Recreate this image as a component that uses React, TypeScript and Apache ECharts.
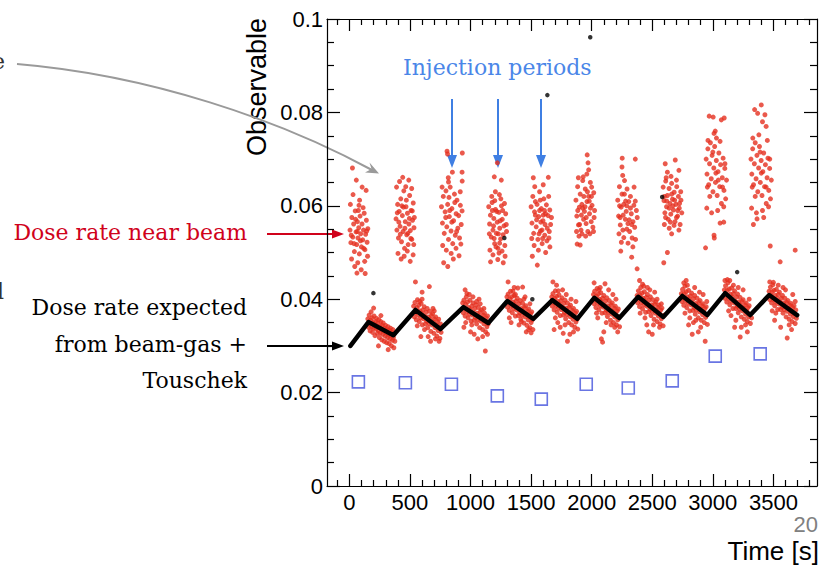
import React, { useEffect, useRef } from "react";
import * as echarts from "echarts";

// ---------- axis ticks ----------
const xMajorTicks = [0, 500, 1000, 1500, 2000, 2500, 3000, 3500];
const xMinorTicks = [-100, 100, 200, 300, 400, 600, 700, 800, 900, 1100, 1200, 1300, 1400, 1600, 1700, 1800, 1900, 2100, 2200, 2300, 2400, 2600, 2700, 2800, 2900, 3100, 3200, 3300, 3400, 3600, 3700, 3800];
const yMajorTicks = [0, 0.02, 0.04, 0.06, 0.08, 0.1];
const yMinorTicks = [0.005, 0.01, 0.015, 0.025, 0.03, 0.035, 0.045, 0.05, 0.055, 0.065, 0.07, 0.075, 0.085, 0.09, 0.095];

// ---------- red points: "dose rate near beam" during injection (t [s], value x 1e-4) ----------
const upper1 = [[5,548],[12,521],[20,575],[28,533],[35,561],[41,502],[48,589],[55,544],[60,517],[66,566],[71,531],[77,553],[82,497],[88,578],[93,540],[99,512],[104,561],[110,527],[116,548],[122,584],[128,506],[134,539],[140,569],[146,522],[152,551],[8,603],[18,486],[30,624],[44,470],[57,655],[69,478],[84,612],[97,463],[113,596],[126,481],[138,633],[150,492],[25,681],[62,456],[105,640],[130,455],[15,537],[38,519],[51,571],[74,590],[91,525],[118,509],[143,546],[79,601],[65,545]];
const upper2 = [[385,572],[392,548],[398,603],[405,531],[411,588],[418,556],[424,615],[430,523],[437,579],[443,545],[449,632],[455,509],[461,566],[467,598],[473,538],[479,584],[485,517],[491,561],[497,622],[503,547],[509,590],[515,528],[521,569],[527,606],[533,553],[389,640],[401,498],[414,652],[427,486],[440,661],[452,492],[465,641],[478,503],[490,655],[502,481],[514,637],[526,495],[536,575],[395,585],[420,539],[446,597],[458,552],[470,612],[483,541],[495,573],[507,530],[519,589],[531,517],[408,565],[433,600]];
const upper3 = [[806,717],[810,711],[932,713],[850,672],[930,672],[816,660],[818,651],[931,653],[760,598],[768,563],[775,620],[783,541],[790,587],[797,632],[804,555],[811,603],[818,528],[825,577],[832,640],[839,546],[846,594],[853,519],[860,568],[867,625],[874,537],[881,583],[888,612],[895,552],[902,579],[909,531],[916,601],[923,560],[930,589],[770,515],[800,505],[840,498],[880,509],[920,518],[778,478],[812,470],[858,486],[905,493],[765,640],[822,618],[870,607],[915,630],[845,565],[885,545],[795,575],[828,590]];
const upper4 = [[1221,692],[1196,662],[1254,655],[1205,630],[1238,624],[1150,598],[1157,561],[1164,580],[1171,533],[1178,607],[1185,548],[1192,573],[1199,519],[1206,592],[1213,541],[1220,565],[1227,509],[1234,586],[1241,552],[1248,529],[1255,600],[1262,571],[1269,538],[1276,557],[1283,515],[1290,583],[1297,545],[1160,505],[1185,495],[1210,512],[1235,499],[1260,503],[1285,492],[1175,620],[1200,611],[1250,615],[1280,605],[1165,480],[1225,485],[1270,478],[1190,557],[1215,588],[1245,568],[1195,530],[1230,540],[1265,590],[1155,540],[1295,560],[1180,590],[1240,520]];
const upper5 = [[1518,660],[1642,661],[1530,641],[1600,645],[1500,598],[1507,563],[1514,620],[1521,541],[1528,587],[1535,609],[1542,555],[1549,603],[1556,528],[1563,577],[1570,630],[1577,546],[1584,594],[1591,519],[1598,568],[1605,615],[1612,537],[1619,583],[1626,602],[1633,552],[1640,579],[1647,531],[1654,591],[1661,560],[1668,575],[1551,473],[1510,492],[1560,505],[1620,500],[1655,512],[1575,612],[1615,560],[1535,580],[1590,548],[1645,620],[1505,530],[1525,515],[1595,530],[1630,525],[1570,590],[1610,590],[1580,565],[1545,570],[1600,580],[1650,545],[1565,540]];
const upper6 = [[1963,709],[1970,692],[1975,677],[1880,518],[1905,516],[1870,612],[1877,578],[1884,641],[1891,559],[1898,597],[1905,625],[1912,548],[1919,603],[1926,654],[1933,571],[1940,588],[1947,636],[1954,562],[1961,609],[1968,545],[1975,620],[1982,583],[1989,650],[1996,566],[2003,601],[2010,554],[2017,628],[2024,590],[1875,545],[1895,535],[1920,540],[1950,535],[1985,540],[2015,545],[1890,660],[1930,662],[1960,668],[2000,640],[1915,580],[1945,598],[1980,610],[1900,560],[2020,575],[1935,620],[1990,595],[1885,590],[1955,575],[1998,620],[1925,595],[1965,630]];
const upper7 = [[2252,702],[2360,700],[2250,683],[2256,665],[2245,522],[2240,503],[2330,490],[2375,465],[2215,612],[2222,578],[2229,641],[2236,559],[2243,597],[2250,625],[2257,548],[2264,603],[2271,654],[2278,571],[2285,588],[2292,636],[2299,562],[2306,609],[2313,545],[2320,620],[2327,583],[2334,531],[2341,566],[2348,601],[2355,554],[2362,528],[2369,590],[2376,575],[2225,540],[2265,532],[2300,520],[2340,512],[2230,600],[2280,610],[2320,595],[2350,640],[2260,580],[2310,570],[2290,550],[2270,625],[2330,560],[2235,575],[2360,610],[2290,600]];
const upper8 = [[2690,698],[2607,690],[2625,672],[2720,676],[2625,500],[2595,478],[2660,540],[2590,640],[2597,611],[2604,585],[2611,653],[2618,598],[2625,622],[2632,571],[2639,637],[2646,605],[2653,582],[2660,648],[2667,614],[2674,591],[2681,629],[2688,566],[2695,603],[2702,641],[2709,578],[2716,620],[2723,595],[2730,560],[2737,612],[2744,585],[2600,560],[2640,552],[2680,558],[2720,548],[2610,575],[2650,565],[2700,575],[2735,630],[2615,660],[2655,663],[2700,655],[2620,610],[2670,600],[2710,590],[2640,595],[2685,612],[2600,620],[2725,605],[2660,625]];
const upper9 = [[2970,792],[3003,790],[3094,788],[3070,784],[3020,760],[3030,745],[2945,700],[2952,668],[2959,722],[2966,645],[2973,690],[2980,735],[2987,658],[2994,708],[3001,630],[3008,681],[3015,727],[3022,650],[3029,697],[3036,622],[3043,673],[3050,713],[3057,641],[3064,688],[3071,605],[3078,660],[3085,702],[3092,633],[3099,680],[3106,615],[3113,655],[2950,595],[2990,585],[3040,590],[3090,598],[2960,740],[3010,755],[3060,738],[2940,510],[3010,537],[3012,531],[3090,565],[3060,563],[2975,620],[3025,670],[3080,640],[2955,640],[3000,715],[3045,655],[3100,690]];
const upper10 = [[3400,816],[3345,806],[3370,798],[3430,795],[3410,780],[3440,770],[3315,700],[3322,668],[3329,722],[3336,645],[3343,690],[3350,735],[3357,658],[3364,708],[3371,630],[3378,681],[3385,727],[3392,650],[3399,697],[3406,622],[3413,673],[3420,713],[3427,641],[3434,688],[3441,605],[3448,660],[3455,702],[3462,633],[3469,680],[3476,615],[3483,655],[3320,595],[3360,585],[3410,590],[3460,598],[3330,745],[3380,752],[3450,740],[3335,560],[3365,572],[3420,575],[3474,514],[3556,480],[3680,505],[3350,620],[3400,670],[3440,640],[3325,640],[3390,715],[3470,700]];

// ---------- red points during decay periods ----------
const lower1 = [[152,358],[158,340],[163,366],[167,347],[171,332],[175,355],[179,373],[183,341],[187,360],[191,329],[195,350],[199,338],[203,364],[207,345],[211,322],[215,352],[219,336],[223,359],[227,343],[231,327],[235,349],[239,333],[243,356],[247,318],[251,341],[255,328],[259,352],[263,336],[267,313],[271,344],[275,325],[279,349],[283,332],[287,310],[291,338],[295,321],[299,344],[303,328],[307,307],[311,335],[315,318],[319,341],[323,325],[327,305],[331,333],[335,315],[339,338],[343,322],[347,300],[351,329],[355,312],[359,335],[363,318],[367,296],[371,326],[375,310],[200,381],[260,365],[320,292],[240,300]];
const lower2 = [[530,385],[536,362],[541,393],[547,371],[552,356],[557,382],[562,399],[567,366],[572,387],[577,352],[582,375],[587,360],[592,391],[597,369],[602,345],[607,377],[612,358],[617,384],[622,363],[627,347],[632,372],[637,353],[642,380],[647,339],[652,362],[657,348],[662,374],[667,356],[672,331],[677,365],[682,345],[687,369],[692,351],[697,327],[702,358],[707,339],[712,362],[717,345],[722,321],[727,352],[732,333],[737,357],[742,340],[747,316],[752,347],[757,329],[560,343],[600,400],[650,320],[700,375],[740,310],[580,395],[620,335],[690,380],[710,315],[545,437],[600,415],[660,427],[590,320],[670,310]];
const lower3 = [[935,392],[940,371],[945,398],[950,380],[955,364],[960,389],[965,405],[970,373],[975,394],[980,360],[985,382],[990,368],[995,398],[1000,377],[1005,353],[1010,385],[1015,366],[1020,392],[1025,371],[1030,355],[1035,380],[1040,361],[1045,388],[1050,347],[1055,370],[1060,356],[1065,382],[1070,364],[1075,339],[1080,373],[1085,353],[1090,377],[1095,359],[1100,335],[1105,366],[1110,347],[1115,370],[1120,353],[1125,330],[1130,360],[1135,341],[1140,364],[1145,347],[955,420],[970,412],[1000,330],[1050,395],[1100,320],[1122,289],[945,340],[990,410],[1030,325],[1080,390],[1060,315],[1020,405],[1110,380],[1140,325],[960,350],[1010,345],[1070,400]];
const lower4 = [[1300,405],[1305,383],[1310,411],[1315,392],[1320,376],[1325,401],[1330,417],[1335,385],[1340,405],[1345,371],[1350,394],[1355,380],[1360,408],[1365,388],[1370,364],[1375,396],[1380,377],[1385,402],[1390,381],[1395,365],[1400,390],[1405,371],[1410,397],[1415,357],[1420,380],[1425,366],[1430,391],[1435,373],[1440,349],[1445,382],[1450,362],[1455,386],[1460,368],[1465,344],[1470,375],[1475,356],[1480,379],[1485,362],[1490,339],[1495,369],[1500,350],[1505,373],[1510,356],[1515,335],[1310,437],[1390,424],[1430,426],[1350,417],[1460,330],[1400,345],[1320,360],[1440,400],[1490,390],[1370,410],[1480,335],[1420,352],[1335,350],[1500,328],[1360,425],[1450,405]];
const lower5 = [[1670,405],[1675,385],[1680,412],[1685,393],[1690,377],[1695,402],[1700,418],[1705,386],[1710,406],[1715,372],[1720,395],[1725,381],[1730,409],[1735,389],[1740,365],[1745,397],[1750,378],[1755,403],[1760,382],[1765,366],[1770,391],[1775,372],[1780,398],[1785,358],[1790,381],[1795,367],[1800,392],[1805,374],[1810,350],[1815,383],[1820,363],[1825,387],[1830,369],[1835,345],[1840,376],[1845,357],[1850,380],[1855,363],[1860,340],[1865,370],[1870,351],[1875,374],[1880,357],[1885,336],[1680,437],[1710,430],[1725,418],[1690,335],[1765,327],[1800,310],[1720,350],[1760,420],[1830,400],[1850,330],[1740,340],[1790,410],[1870,395],[1700,360],[1820,325],[1780,345]];
const lower6 = [[2015,410],[2020,390],[2025,417],[2030,398],[2035,382],[2040,407],[2045,423],[2050,391],[2055,411],[2060,377],[2065,400],[2070,386],[2075,414],[2080,394],[2085,370],[2090,402],[2095,383],[2100,408],[2105,387],[2110,371],[2115,396],[2120,377],[2125,403],[2130,363],[2135,386],[2140,372],[2145,397],[2150,379],[2155,355],[2160,388],[2165,368],[2170,392],[2175,374],[2180,350],[2185,381],[2190,362],[2195,385],[2200,368],[2205,345],[2210,375],[2215,356],[2220,379],[2225,362],[2230,341],[2020,435],[2110,433],[2090,308],[2080,315],[2050,360],[2140,420],[2190,340],[2070,425],[2160,345],[2120,350],[2040,370],[2200,400],[2100,330],[2175,410],[2060,420],[2215,330]];
const lower7 = [[2375,408],[2380,392],[2385,418],[2390,400],[2395,384],[2400,409],[2405,425],[2410,393],[2415,413],[2420,379],[2425,402],[2430,388],[2435,416],[2440,396],[2445,372],[2450,404],[2455,385],[2460,410],[2465,389],[2470,373],[2475,398],[2480,379],[2485,405],[2490,365],[2495,388],[2500,374],[2505,399],[2510,381],[2515,357],[2520,390],[2525,370],[2530,394],[2535,376],[2540,352],[2545,383],[2550,364],[2555,387],[2560,370],[2565,347],[2570,377],[2575,358],[2580,381],[2585,364],[2590,343],[2600,366],[2420,432],[2430,428],[2470,330],[2500,325],[2440,360],[2520,415],[2560,340],[2400,370],[2480,420],[2540,400],[2455,345],[2575,390],[2395,440],[2510,345],[2460,425]];
const lower8 = [[2740,412],[2745,395],[2750,421],[2755,403],[2760,387],[2765,412],[2770,428],[2775,396],[2780,416],[2785,382],[2790,405],[2795,391],[2800,419],[2805,399],[2810,375],[2815,407],[2820,388],[2825,413],[2830,392],[2835,376],[2840,401],[2845,382],[2850,408],[2855,368],[2860,391],[2865,377],[2870,402],[2875,384],[2880,360],[2885,393],[2890,373],[2895,397],[2900,379],[2905,355],[2910,386],[2915,367],[2920,390],[2925,373],[2930,350],[2935,380],[2940,361],[2945,384],[2950,367],[2955,346],[2937,310],[2760,435],[2790,430],[2830,325],[2880,330],[2810,360],[2850,425],[2900,340],[2770,370],[2860,355],[2920,410],[2800,345],[2890,415],[2840,350],[2950,395],[2780,440]];
const lower9 = [[3095,420],[3100,402],[3105,429],[3110,411],[3115,394],[3120,419],[3125,435],[3130,402],[3135,422],[3140,388],[3145,411],[3150,396],[3155,424],[3160,404],[3165,380],[3170,412],[3175,392],[3180,418],[3185,396],[3190,380],[3195,405],[3200,385],[3205,411],[3210,371],[3215,394],[3220,379],[3225,404],[3230,386],[3235,362],[3240,395],[3245,375],[3250,399],[3255,381],[3260,357],[3265,388],[3270,368],[3275,392],[3280,375],[3285,352],[3290,382],[3295,362],[3300,386],[3305,368],[3310,348],[3100,440],[3120,442],[3226,319],[3180,340],[3150,365],[3250,420],[3285,330],[3130,375],[3210,425],[3270,345],[3170,430],[3235,340],[3300,400],[3190,355],[3140,440],[3320,360]];
const lower10 = [[3465,417],[3470,399],[3475,426],[3480,408],[3485,392],[3490,416],[3495,431],[3500,399],[3505,419],[3510,386],[3515,408],[3520,394],[3525,421],[3530,401],[3535,378],[3540,410],[3545,390],[3550,415],[3555,394],[3560,378],[3565,402],[3570,383],[3575,408],[3580,370],[3585,392],[3590,378],[3595,402],[3600,384],[3605,362],[3610,393],[3615,374],[3620,397],[3625,380],[3630,357],[3635,387],[3640,368],[3645,391],[3650,374],[3655,352],[3660,382],[3665,363],[3670,386],[3675,369],[3680,348],[3685,377],[3690,359],[3470,437],[3500,436],[3614,317],[3560,340],[3520,370],[3600,420],[3650,335],[3490,375],[3580,425],[3630,345],[3540,430],[3680,395],[3510,355],[3660,410]];

// ---------- expected dose (beam-gas + Touschek) sawtooth ----------
const sawT = [8, 157, 363, 545, 751, 941, 1147, 1304, 1518, 1675, 1881, 2021, 2228, 2384, 2591, 2748, 2954, 3102, 3309, 3465, 3696];
const sawY = [0.0300, 0.0351, 0.0323, 0.0377, 0.0336, 0.0383, 0.0349, 0.0396, 0.0358, 0.0398, 0.0358, 0.0403, 0.0360, 0.0405, 0.0362, 0.0407, 0.0366, 0.0413, 0.0366, 0.0409, 0.0366];

// isolated black points
const blackDotT = [1988, 1634, 198, 1510, 3201, 2582, 1279];
const blackDotY = [0.0961, 0.0837, 0.0413, 0.0400, 0.0458, 0.0619, 0.0531];

// blue open squares
const squareT = [74, 462, 842, 1221, 1584, 1955, 2302, 2665, 3020, 3391];
const squareY = [0.0223, 0.0221, 0.0218, 0.0193, 0.0186, 0.0218, 0.0210, 0.0225, 0.0278, 0.0283];

const SANS = "'Liberation Sans', Arial, Helvetica, sans-serif";
const SERIF = "'DejaVu Serif', 'Liberation Serif', serif";

export default function App() {
  const ref = useRef<HTMLDivElement>(null);

  useEffect(() => {
    if (!ref.current) return;
    const chart = echarts.init(ref.current, undefined, { renderer: "svg" });

    const redAll = [
      ...upper1, ...upper2, ...upper3, ...upper4, ...upper5,
      ...upper6, ...upper7, ...upper8, ...upper9, ...upper10,
      ...lower1, ...lower2, ...lower3, ...lower4, ...lower5,
      ...lower6, ...lower7, ...lower8, ...lower9, ...lower10,
    ].map(([t, v]) => [t, v / 10000]);

    const sawData = sawT.map((t, i) => [t, sawY[i]]);
    const dotData = blackDotT.map((t, i) => [t, blackDotY[i]]);
    const sqData = squareT.map((t, i) => [t, squareY[i]]);

    const line = { color: "#000", width: 1.2 };
    const xBase = { type: "value", min: -185, max: 3860, splitLine: { show: false } };
    const yBase = { type: "value", min: 0, max: 0.1, splitLine: { show: false } };

    const blueArrowX = [452, 498, 541];

    const graphic: any[] = [
      // y axis title
      {
        type: "text", x: 257, y: 87, rotation: Math.PI / 2,
        style: { text: "Observable", fontSize: 27, fontFamily: SANS, fill: "#000", textAlign: "center", textVerticalAlign: "middle" },
      },
      // x axis title
      {
        type: "text", x: 819, y: 551,
        style: { text: "Time [s]", fontSize: 26, fontFamily: SANS, fill: "#000", textAlign: "right", textVerticalAlign: "middle" },
      },
      // slide page number
      {
        type: "text", x: 818, y: 524,
        style: { text: "20", fontSize: 22, fontFamily: SANS, fill: "#808080", textAlign: "right", textVerticalAlign: "middle" },
      },
      // cut-off slide text fragments on the left edge
      {
        type: "text", x: 5, y: 61,
        style: { text: "e", fontSize: 22, fontFamily: SERIF, fill: "#333", textAlign: "right", textVerticalAlign: "middle" },
      },
      {
        type: "text", x: 4, y: 291,
        style: { text: "l", fontSize: 22, fontFamily: SERIF, fill: "#333", textAlign: "right", textVerticalAlign: "middle" },
      },
      // Injection periods
      {
        type: "text", x: 403, y: 67,
        style: { text: "Injection periods", fontSize: 22, fontFamily: SERIF, fill: "#4a86e8", textAlign: "left", textVerticalAlign: "middle" },
      },
      ...blueArrowX.map((x) => ({
        type: "line", shape: { x1: x, y1: 99, x2: x, y2: 158 },
        style: { stroke: "#3f7fe3", lineWidth: 2 },
      })),
      ...blueArrowX.map((x) => ({
        type: "polygon", shape: { points: [[x - 5, 155], [x + 5, 155], [x, 168]] },
        style: { fill: "#3f7fe3" },
      })),
      // Dose rate near beam
      {
        type: "text", x: 247, y: 232,
        style: { text: "Dose rate near beam", fontSize: 22, fontFamily: SERIF, fill: "#d0021b", textAlign: "right", textVerticalAlign: "middle" },
      },
      { type: "line", shape: { x1: 267, y1: 234, x2: 334, y2: 234 }, style: { stroke: "#d0021b", lineWidth: 2 } },
      { type: "polygon", shape: { points: [[332, 229.5], [332, 238.5], [344, 234]] }, style: { fill: "#d0021b" } },
      // Dose rate expected
      {
        type: "text", x: 247, y: 307,
        style: { text: "Dose rate expected", fontSize: 22, fontFamily: SERIF, fill: "#000", textAlign: "right", textVerticalAlign: "middle" },
      },
      {
        type: "text", x: 247, y: 344,
        style: { text: "from beam-gas +", fontSize: 22, fontFamily: SERIF, fill: "#000", textAlign: "right", textVerticalAlign: "middle" },
      },
      {
        type: "text", x: 247, y: 380,
        style: { text: "Touschek", fontSize: 22, fontFamily: SERIF, fill: "#000", textAlign: "right", textVerticalAlign: "middle" },
      },
      { type: "line", shape: { x1: 267, y1: 346, x2: 334, y2: 346 }, style: { stroke: "#000", lineWidth: 2 } },
      { type: "polygon", shape: { points: [[332, 341.5], [332, 350.5], [344, 346]] }, style: { fill: "#000" } },
      // grey curved arrow
      {
        type: "bezierCurve",
        shape: { x1: 17, y1: 64, cpx1: 150, cpy1: 75, cpx2: 280, cpy2: 120, x2: 372, y2: 170 },
        style: { stroke: "#9a9a9a", lineWidth: 2, fill: "none" },
      },
      {
        type: "polygon",
        shape: { points: [[379, 173.5], [369.5, 162.5], [371.5, 169], [365, 172.5]] },
        style: { fill: "#9a9a9a" },
      },
    ];

    chart.setOption({
      animation: false,
      backgroundColor: "#fff",
      grid: { left: 327, right: 6, top: 19, bottom: 81, containLabel: false },
      xAxis: [
        {
          ...xBase, position: "bottom",
          axisLine: { show: true, onZero: false, lineStyle: line },
          axisTick: { show: true, inside: true, length: 12, customValues: xMajorTicks, lineStyle: line },
          axisLabel: {
            show: true, customValues: xMajorTicks, fontSize: 22, color: "#000", fontFamily: SANS, margin: 5,
            formatter: (v: number) => String(v),
          },
        },
        {
          ...xBase, position: "bottom",
          axisLine: { show: false, onZero: false },
          axisTick: { show: true, inside: true, length: 6, customValues: xMinorTicks, lineStyle: line },
          axisLabel: { show: false },
        },
        {
          ...xBase, position: "top",
          axisLine: { show: true, onZero: false, lineStyle: line },
          axisTick: { show: true, inside: true, length: 12, customValues: xMajorTicks, lineStyle: line },
          axisLabel: { show: false },
        },
        {
          ...xBase, position: "top",
          axisLine: { show: false, onZero: false },
          axisTick: { show: true, inside: true, length: 6, customValues: xMinorTicks, lineStyle: line },
          axisLabel: { show: false },
        },
      ],
      yAxis: [
        {
          ...yBase, position: "left",
          axisLine: { show: true, onZero: false, lineStyle: line },
          axisTick: { show: true, inside: true, length: 13, customValues: yMajorTicks, lineStyle: line },
          axisLabel: {
            show: true, customValues: yMajorTicks, fontSize: 22, color: "#000", fontFamily: SANS, margin: 4,
            formatter: (v: number) => String(Math.round(v * 100) / 100),
          },
        },
        {
          ...yBase, position: "left",
          axisLine: { show: false, onZero: false },
          axisTick: { show: true, inside: true, length: 7, customValues: yMinorTicks, lineStyle: line },
          axisLabel: { show: false },
        },
        {
          ...yBase, position: "right",
          axisLine: { show: true, onZero: false, lineStyle: line },
          axisTick: { show: true, inside: true, length: 13, customValues: yMajorTicks, lineStyle: line },
          axisLabel: { show: false },
        },
        {
          ...yBase, position: "right",
          axisLine: { show: false, onZero: false },
          axisTick: { show: true, inside: true, length: 7, customValues: yMinorTicks, lineStyle: line },
          axisLabel: { show: false },
        },
      ],
      series: [
        {
          name: "Dose rate near beam", type: "scatter", xAxisIndex: 0, yAxisIndex: 0,
          data: redAll, symbol: "circle", symbolSize: 5,
          itemStyle: { color: "#e5301f" }, z: 2, silent: true,
        },
        {
          name: "Expected", type: "line", xAxisIndex: 0, yAxisIndex: 0,
          data: sawData, showSymbol: false, symbol: "none",
          lineStyle: { color: "#000", width: 4.5, cap: "round", join: "round" }, z: 3, silent: true,
        },
        {
          name: "Black points", type: "scatter", xAxisIndex: 0, yAxisIndex: 0,
          data: dotData, symbolSize: 4.5, itemStyle: { color: "#000" }, z: 4, silent: true,
        },
        {
          name: "Squares", type: "scatter", xAxisIndex: 0, yAxisIndex: 0,
          data: sqData, symbol: "rect", symbolSize: 12,
          itemStyle: { color: "rgba(0,0,0,0)", borderColor: "#4453dc", borderWidth: 1.6 }, z: 4, silent: true,
        },
      ],
      graphic,
    });

    return () => chart.dispose();
  }, []);

  return (
    <div
      ref={ref}
      style={{ position: "fixed", left: 0, top: 0, width: 823, height: 567, background: "#fff" }}
    />
  );
}
